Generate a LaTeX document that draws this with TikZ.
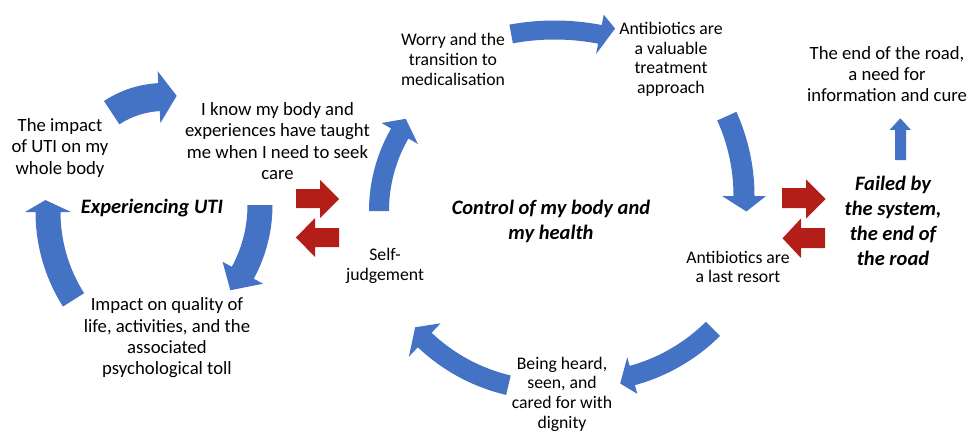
\documentclass[tikz,border=0pt]{standalone}
\usepackage{fontspec}
\setmainfont{Carlito}
\definecolor{arrblue}{RGB}{68,114,196}
\definecolor{arrred}{RGB}{180,30,24}
% cx cy R w hw a1 a2 a3 tipR
\newcommand\curvarrow[9]{%
  \fill[arrblue] plot[domain=#6:#7,samples=40,variable=\t] ({#1+(#3+#4/2)*cos(\t)},{#2+(#3+#4/2)*sin(\t)})
   -- ({#1+(#3+#5)*cos(#7)},{#2+(#3+#5)*sin(#7)})
   -- ({#1+(#9)*cos(#8)},{#2+(#9)*sin(#8)})
   -- ({#1+(#3-#5)*cos(#7)},{#2+(#3-#5)*sin(#7)})
   -- ({#1+(#3-#4/2)*cos(#7)},{#2+(#3-#4/2)*sin(#7)})
   -- plot[domain=#7:#6,samples=40,variable=\t] ({#1+(#3-#4/2)*cos(\t)},{#2+(#3-#4/2)*sin(\t)}) -- cycle;}
\tikzset{
  lblbig/.style={align=center, inner sep=0pt, font=\fontsize{18.7}{21.3}\selectfont},
  lblsmall/.style={align=center, inner sep=0pt, font=\fontsize{17.7}{19.7}\selectfont},
  theme/.style={align=center, inner sep=0pt, font=\fontsize{20.5}{25}\selectfont\bfseries\itshape},
  redarrow/.style={fill=arrred},
  bluearrow/.style={fill=arrblue}
}
\begin{document}
\begin{tikzpicture}[x=1pt,y=-1pt]
\useasboundingbox (0,0) rectangle (969,433);
% text nodes
\node[lblbig] (impact) at (60,148) {The impact\\of UTI on my\\whole body};
\node[lblbig] (know) at (277.5,141) {I know my body and\\experiences have taught\\me when I need to seek\\care};
\node[lblbig] (quality) at (167,338) {Impact on quality of\\life, activities, and the\\associated\\psychological toll};
\node[theme] (uti) at (152,208) {Experiencing UTI};
\node[lblsmall] (self) at (385,266) {Self-\\judgement};
\node[lblsmall] (worry) at (453,59.5) {Worry and the\\transition to\\medicalisation};
\node[theme] (control) at (551,221) {Control of my body and\\my health};
\node[lblsmall] (valuable) at (671,59.3) {Antibiotics are\\a valuable\\treatment\\approach};
\node[lblbig] (endroad) at (887,74) {The end of the road,\\a need for\\information and cure};
\node[theme] (failed) at (893,221) {Failed by\\the system,\\the end of\\the road};
\node[lblsmall] (last) at (738,267) {Antibiotics are\\a last resort};
\node[lblsmall] (heard) at (562,394) {Being heard,\\seen, and\\cared for with\\dignity};
% curved blue arrows
\curvarrow{164}{192}{95}{28}{26}{236.6}{267}{277.5}{97}
\curvarrow{118}{205}{142}{25}{23}{0}{28.5}{37.2}{141}
\curvarrow{212}{212}{164}{25}{23}{147.6}{180}{184.1}{167}
\curvarrow{534}{211}{155}{20}{21}{180}{210}{215.7}{158}
\curvarrow{554.5}{268}{238}{19}{20}{259.5}{281}{284.2}{247}
\curvarrow{550}{196}{194}{21}{22}{335.7}{360}{364.5}{197}
\curvarrow{584}{199}{183}{20}{19}{45.2}{74.7}{78.9}{188}
\curvarrow{550}{208}{182}{20}{23}{103.2}{133.5}{138.5}{180}
% red arrows
\fill[redarrow] (296,189)--(320,189)--(320,180)--(339,199)--(320,218)--(320,208)--(296,208)--cycle;
\fill[redarrow] (339,228)--(315,228)--(315,218)--(296,237.5)--(315,257)--(315,247)--(339,247)--cycle;
\fill[redarrow] (782,188)--(806,188)--(806,179.5)--(825.5,199)--(806,218.5)--(806,208)--(782,208)--cycle;
\fill[redarrow] (825,228)--(801,228)--(801,218.5)--(782.5,238.3)--(801,258)--(801,248)--(825,248)--cycle;
% small up arrow
\fill[bluearrow] (895,160)--(895,130)--(889.5,130)--(900.3,118.3)--(911,130)--(906,130)--(906,160)--cycle;
\end{tikzpicture}
\end{document}
